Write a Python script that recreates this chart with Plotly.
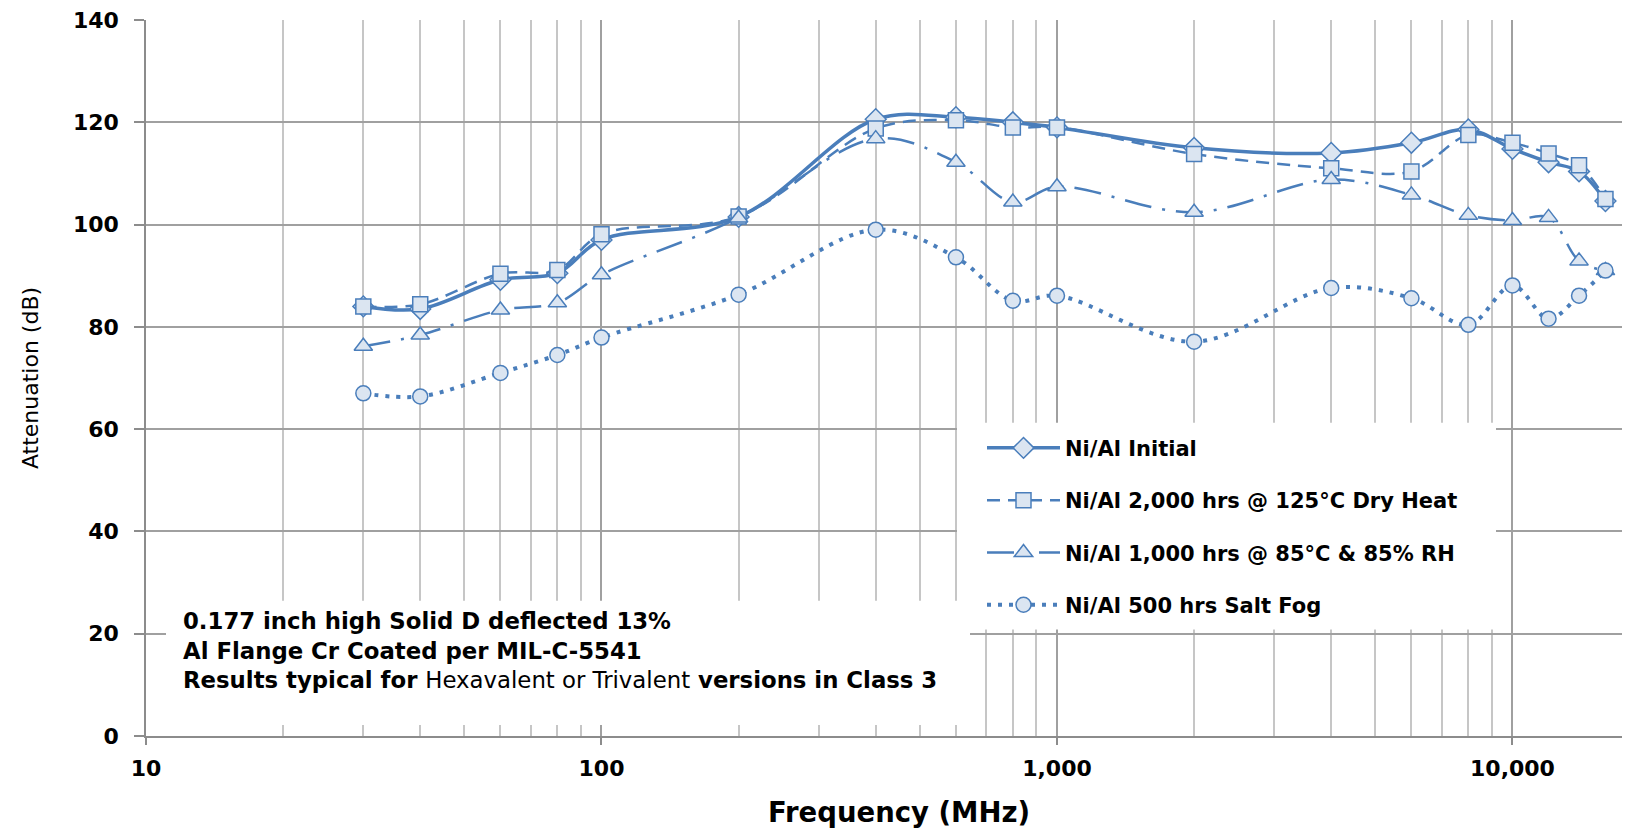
import plotly.graph_objects as go

# ---- data ----
freq_mhz = [30, 40, 60, 80, 100, 200, 400, 600, 800, 1000, 2000, 4000, 6000, 8000, 10000, 12000, 14000, 16000]
initial = [84.0, 83.5, 89.2, 90.5, 97.0, 101.5, 120.6, 121.0, 120.0, 119.0, 115.0, 114.0, 116.0, 118.6, 114.8, 112.2, 110.4, 104.6]
dry_heat = [84.0, 84.4, 90.4, 91.1, 98.1, 101.6, 118.8, 120.4, 119.0, 119.0, 113.8, 111.0, 110.4, 117.5, 116.0, 113.9, 111.6, 105.0]
humidity = [76.2, 78.4, 83.3, 84.7, 90.2, 101.3, 116.8, 112.2, 104.4, 107.4, 102.4, 108.8, 105.8, 101.8, 100.8, 101.4, 92.9, 91.0]
salt_fog = [67.0, 66.4, 71.0, 74.5, 77.9, 86.3, 99.0, 93.6, 85.1, 86.1, 77.1, 87.6, 85.6, 80.4, 88.1, 81.6, 86.1, 91.0]

series_names = [
    "Ni/Al Initial",
    "Ni/Al 2,000 hrs @ 125°C Dry Heat",
    "Ni/Al 1,000 hrs @ 85°C & 85% RH",
    "Ni/Al 500 hrs Salt Fog",
]

x_tickvals = [10, 100, 1000, 10000]
x_ticktext = ["10", "100", "1,000", "10,000"]
x_minorvals = [20, 30, 40, 50, 60, 70, 80, 90,
               200, 300, 400, 500, 600, 700, 800, 900,
               2000, 3000, 4000, 5000, 6000, 7000, 8000, 9000]
y_tickvals = [0, 20, 40, 60, 80, 100, 120, 140]

x_title = "Frequency (MHz)"
y_title = "Attenuation (dB)"

note_lines = [
    "<b>0.177 inch high Solid D deflected 13%</b>",
    "<b>Al Flange Cr Coated per MIL-C-5541</b>",
    "<b>Results typical for </b>Hexavalent or Trivalent<b> versions in Class 3</b>",
]

# ---- styling ----
BLUE = "#4A7EBB"
FILL = "#DBE5F1"
FONT = "DejaVu Sans"

styles = [
    dict(dash="solid", width=3.5, symbol="diamond", size=16),
    dict(dash="13px,8px", width=2.5, symbol="square", size=15),
    dict(dash="27px,11px,3px,11px", width=2.5, symbol="triangle-up", size=16),
    dict(dash="4px,7px", width=4, symbol="circle", size=15),
]

fig = go.Figure()
for name, vals, st, grp in zip(series_names, [initial, dry_heat, humidity, salt_fog], styles, "abcd"):
    fig.add_trace(go.Scatter(
        x=freq_mhz, y=vals, name=name, mode="lines+markers",
        legendgroup=grp,
        line=dict(color=BLUE, width=st["width"], dash=st["dash"], shape="spline", smoothing=1.0),
        marker=dict(symbol=st["symbol"], size=st["size"], color=FILL,
                    line=dict(color=BLUE, width=1.5)),
    ))

# page body has an 8px margin; compensate so the plot lands where the reference has it
OFF = 8
W, H = 1630 - OFF, 829 - OFF
ml, mr, mt, mb = 138, 0, 8, 93
pw, ph = W - ml - mr, H - mt - mb

def px_x(p):  # window pixel -> paper fraction
    return (p - OFF - ml) / pw

def px_y(p):
    return (H - mb - (p - OFF)) / ph

# white boxes behind legend and note (cover gridlines)
fig.add_shape(type="rect", xref="paper", yref="paper",
              x0=px_x(957), x1=px_x(1496), y0=px_y(629), y1=px_y(421),
              fillcolor="white", line=dict(width=0), layer="above")
fig.add_shape(type="rect", xref="paper", yref="paper",
              x0=px_x(166), x1=px_x(970), y0=px_y(725), y1=px_y(600),
              fillcolor="white", line=dict(width=0), layer="above")

fig.add_annotation(
    xref="paper", yref="paper", x=px_x(181), y=px_y(650),
    xanchor="left", yanchor="middle", align="left", showarrow=False,
    text="<br>".join(note_lines),
    font=dict(family=FONT, size=22.8, color="black"),
)

# x-axis title (placed as in the reference, slightly right of plot centre)
fig.add_annotation(
    xref="paper", yref="paper", x=px_x(899), y=px_y(812),
    xanchor="center", yanchor="middle", showarrow=False,
    text="<b>" + x_title + "</b>",
    font=dict(family=FONT, size=27.5, color="black"),
)

fig.update_layout(
    width=W, height=H,
    margin=dict(l=ml, r=mr, t=mt, b=mb, pad=0),
    paper_bgcolor="white", plot_bgcolor="white",
    font=dict(family=FONT, color="black"),
    showlegend=True,
    legend=dict(
        x=px_x(982), y=px_y(426), xanchor="left", yanchor="top",
        bgcolor="rgba(0,0,0,0)", borderwidth=0,
        font=dict(family=FONT, size=21, color="black", weight="bold"),
        itemwidth=73, tracegroupgap=22,
    ),
    xaxis=dict(
        type="log", range=[1, 4.258],
        tickmode="array", tickvals=x_tickvals, ticktext=x_ticktext,
        tickfont=dict(family=FONT, size=22, color="black", weight="bold"),
        ticks="outside", ticklen=7, tickwidth=1.5, tickcolor="#8C8C8C",
        ticklabelstandoff=5,
        showgrid=True, gridcolor="#A0A0A0", gridwidth=1.5,
        minor=dict(tickvals=x_minorvals, showgrid=True, gridcolor="#C6C6C6", gridwidth=1.5, ticks=""),
        showline=True, linecolor="#8C8C8C", linewidth=1.5,
        zeroline=False,
    ),
    yaxis=dict(
        range=[0, 140], tickmode="array", tickvals=y_tickvals,
        tickfont=dict(family=FONT, size=22, color="black", weight="bold"),
        ticks="outside", ticklen=10, tickwidth=1.5, tickcolor="#8C8C8C",
        ticklabelstandoff=11, ticklabeloverflow="allow",
        showgrid=True, gridcolor="#A0A0A0", gridwidth=1.5,
        showline=True, linecolor="#8C8C8C", linewidth=1.5,
        zeroline=False,
        title=dict(text=y_title, font=dict(family=FONT, size=22, color="black"), standoff=28),
    ),
)

fig.write_html("out.html")
